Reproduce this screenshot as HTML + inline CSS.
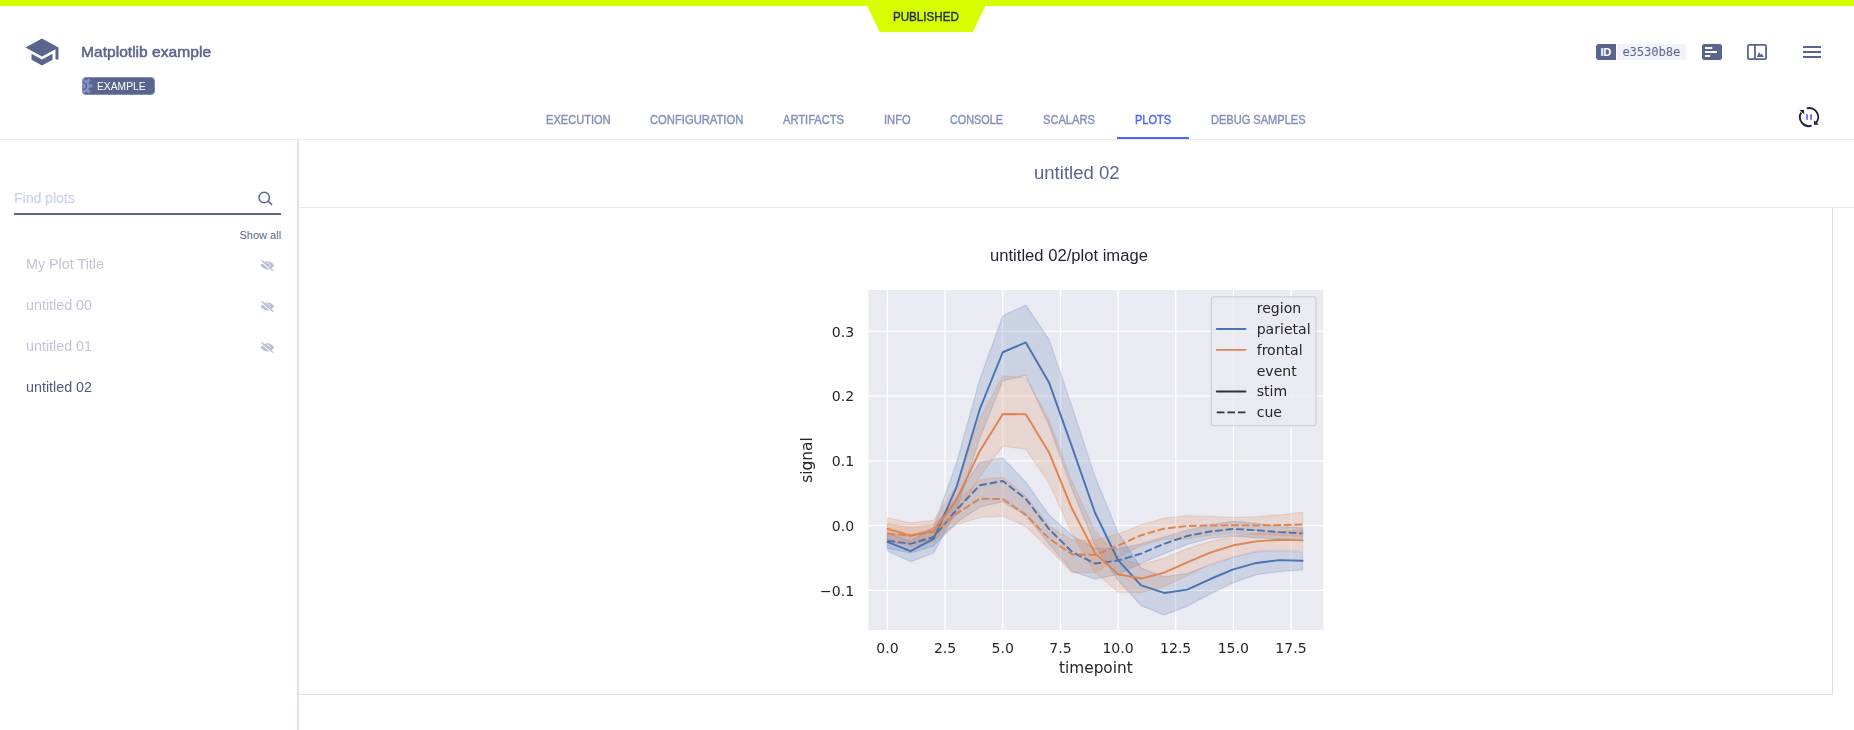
<!DOCTYPE html>
<html lang="en">
<head>
<meta charset="utf-8">
<title>Matplotlib example - Plots</title>
<style>
*{box-sizing:border-box;margin:0;padding:0}
html,body{width:1854px;height:730px;overflow:hidden;background:#fff}
body{position:relative;font-family:"Liberation Sans",Arial,sans-serif;color:#5a658e}
.abs{position:absolute}
.t{position:absolute;white-space:nowrap;line-height:1;transform-origin:0 50%}
.med{-webkit-text-stroke:0.4px currentColor}
#topbar{left:0;top:0;width:1854px;height:6px;background:#d7ff00}
#ribbon{left:860px;top:0;width:134px;height:34px}
#published{left:893px;top:11px;font-size:12px;color:#2a2d4f;transform:scaleX(0.967)}
#capicon{left:24px;top:34px;width:36px;height:36px}
#title{left:81px;top:44px;font-size:15px;color:#5a658e;-webkit-text-stroke:0.5px #5a658e;transform:scaleX(1.04)}
#badge{left:82px;top:77px;width:73px;height:18px;background:#5a658e;border:1px solid #7f8cc0;border-radius:4px;overflow:hidden}
#badge svg{position:absolute;left:-1px;top:-1px}
#badgetext{left:97px;top:81px;font-size:11px;color:#fff;transform:scaleX(0.935)}
#idchip-d{left:1596px;top:44px;width:20px;height:16px;background:#5a658e;border-radius:3px 0 0 3px}
#idchip-l{left:1617px;top:44px;width:69px;height:16px;background:#f1f3fc;border-radius:0 3px 3px 0}
#idtxt{left:1600.4px;top:47px;font-size:11px;font-weight:bold;color:#fff;letter-spacing:-0.3px}
#hash{left:1622.4px;top:46px;font-size:12px;font-family:"DejaVu Sans Mono","Liberation Mono",monospace;color:#5a658e}
#ico1{left:1702px;top:44px;width:20px;height:16px}
#ico2{left:1747px;top:44px;width:20px;height:16px}
#ico3{left:1803px;top:46px;width:18px;height:12px}
#refresh{left:1797px;top:105px;width:24px;height:24px}
.tab{font-size:12px;color:#8490bd;top:114px}
.tab.on{color:#4d66ff}
#tabline{left:1117px;top:137px;width:72px;height:2px;background:#4d66ff}
#hline{left:0;top:139px;width:1854px;height:1px;background:#e9ebf2}
#sideborder{left:297px;top:140px;width:2px;height:590px;background:#dce0f0}
#find{left:14px;top:191px;font-size:14px;color:#c3cdf0}
#findline{left:14px;top:213px;width:267px;height:2px;background:#5a658e}
#searchico{left:256px;top:189px;width:18px;height:18px}
#showall{left:239.5px;top:230px;font-size:11px;color:#5a658e}
.item{left:26px;font-size:14px;color:#c0c4d8;transform:scaleX(1.022)}
.item.on{color:#4d5a85}
.eye{left:259.500px;width:15px;height:15px}
#ptitle{left:1033.6px;top:164px;font-size:18px;color:#5a658e;transform:scaleX(1.03)}
#hline2{left:299px;top:207px;width:1555px;height:1px;background:#e9ebf3}
#vline{left:1832px;top:208px;width:1px;height:487px;background:#d9ddf0}
#hline3{left:299px;top:694px;width:1534px;height:1px;background:#d9ddf0}
#ctitle{left:989.7px;top:248px;font-size:16px;color:#1e2235;transform:scaleX(1.038)}
#chart{left:793.55px;top:236.30px;width:589.03px;height:443.65px}
#chart svg{display:block;width:100%;height:100%;filter:blur(0.45px)}
</style>
</head>
<body>
<div class="abs" id="topbar"></div>
<svg class="abs" id="ribbon" viewBox="0 0 134 34"><polygon points="6.800,5 125.800,5 112.800,32 19.700,32" fill="#d7ff00"/></svg>
<div class="t med" id="published">PUBLISHED</div>

<svg class="abs" id="capicon" viewBox="0 0 24 24"><path fill="#5a658e" d="M5 13.18v4L12 21l7-3.82v-4L12 17l-7-3.820zM12 3L1 9l11 6 9-4.910V17h2V9L12 3z"/></svg>
<div class="t" id="title">Matplotlib example</div>
<div class="abs" id="badge"><svg width="14" height="18" viewBox="0 0 14 18"><g fill="#8391c7"><circle cx="1" cy="9" r="6.300"/><rect x="-0.500" y="-0.400" width="3" height="4" /><rect x="-0.500" y="14.400" width="3" height="4"/><rect x="6" y="7.500" width="4.300" height="3"/><rect x="-0.500" y="-0.400" width="3" height="4" transform="rotate(45 1 9)"/><rect x="-0.500" y="-0.400" width="3" height="4" transform="rotate(135 1 9)"/></g><circle cx="1" cy="9" r="4.200" fill="#5a658e"/><circle cx="1" cy="9" r="2.800" fill="#8391c7"/></svg></div>
<div class="t" id="badgetext">EXAMPLE</div>

<div class="abs" id="idchip-d"></div><div class="abs" id="idchip-l"></div>
<div class="t" id="idtxt">ID</div>
<div class="t" id="hash">e3530b8e</div>
<svg class="abs" id="ico1" viewBox="0 0 20 16"><rect width="20" height="16" rx="2.200" fill="#5a658e"/><rect x="3" y="3" width="7.2" height="2" fill="#fff"/><rect x="3" y="7" width="12" height="2" fill="#fff"/><rect x="3" y="11" width="5.2" height="2" fill="#fff"/></svg>
<svg class="abs" id="ico2" viewBox="0 0 20 16"><rect x="0.9" y="0.9" width="18.2" height="14.2" rx="1.600" fill="none" stroke="#5a658e" stroke-width="1.8"/><rect x="7.1" y="1" width="1.8" height="14" fill="#5a658e"/><path d="M9.8 12.9l2.2-5 1.6 2.8 1.1-1.3 2.1 3.5z" fill="#5a658e"/></svg>
<svg class="abs" id="ico3" viewBox="0 0 18 12"><rect y="0" width="18" height="2" fill="#5a658e"/><rect y="5" width="18" height="2" fill="#5a658e"/><rect y="10" width="18" height="2" fill="#5a658e"/></svg>
<svg class="abs" id="refresh" viewBox="0 0 24 24"><g fill="none" stroke="#1f2347" stroke-width="1.9"><path d="M9.8 3.4A9 9 0 0 1 18.6 18.4"/><path d="M14.6 20.700A9 9 0 0 1 4.200 7.500"/></g><path d="M2.300 5h4.800v4.200z" fill="#1f2347"/><path d="M17 15.300v4.500h4.900z" fill="#1f2347"/><rect x="9.200" y="9.200" width="1.700" height="5.600" fill="#6a5cff"/><rect x="13.200" y="9.200" width="1.700" height="5.600" fill="#6a5cff"/></svg>

<div class="t tab med" style="left:546px;transform:scaleX(0.923)">EXECUTION</div>
<div class="t tab med" style="left:650px;transform:scaleX(0.935)">CONFIGURATION</div>
<div class="t tab med" style="left:783px;transform:scaleX(0.927)">ARTIFACTS</div>
<div class="t tab med" style="left:884px;transform:scaleX(0.93)">INFO</div>
<div class="t tab med" style="left:950px;transform:scaleX(0.903)">CONSOLE</div>
<div class="t tab med" style="left:1043px;transform:scaleX(0.927)">SCALARS</div>
<div class="t tab med on" style="left:1135px;transform:scaleX(0.918)">PLOTS</div>
<div class="t tab med" style="left:1211px;transform:scaleX(0.921)">DEBUG SAMPLES</div>
<div class="abs" id="tabline"></div>
<div class="abs" id="hline"></div>

<div class="abs" id="sideborder"></div>
<div class="t" id="find">Find plots</div>
<div class="abs" id="findline"></div>
<svg class="abs" id="searchico" viewBox="0 0 18 18"><circle cx="8.200" cy="8.500" r="5.200" fill="none" stroke="#5a68a0" stroke-width="1.5"/><path d="M12.100 12.200l4 3.700" stroke="#5a68a0" stroke-width="1.600" stroke-linecap="round"/></svg>
<div class="t" id="showall">Show all</div>
<div class="t item" style="top:257px">My Plot Title</div>
<div class="t item" style="top:298px">untitled 00</div>
<div class="t item" style="top:339px">untitled 01</div>
<div class="t item on" style="top:380px">untitled 02</div>
<svg class="abs eye" style="top:258px" viewBox="0 0 15 15"><path fill="#b9bed6" d="M0.500 7.500Q7.400 -0.850 14.300 7.400Q7.400 15.750 0.500 7.500z"/><path d="M5.560 5.560A2.600 2.600 0 0 1 9.240 9.240" fill="none" stroke="#fff" stroke-width="0.700"/><path d="M0.670 3.020L12.470 13.520" stroke="#fff" stroke-width="1.200"/><path d="M1.400 2.200L13.200 12.700" stroke="#b9bed6" stroke-width="1.300"/></svg><svg class="abs eye" style="top:299px" viewBox="0 0 15 15"><path fill="#b9bed6" d="M0.500 7.500Q7.400 -0.850 14.300 7.400Q7.400 15.750 0.500 7.500z"/><path d="M5.560 5.560A2.600 2.600 0 0 1 9.240 9.240" fill="none" stroke="#fff" stroke-width="0.700"/><path d="M0.670 3.020L12.470 13.520" stroke="#fff" stroke-width="1.200"/><path d="M1.400 2.200L13.200 12.700" stroke="#b9bed6" stroke-width="1.300"/></svg><svg class="abs eye" style="top:340px" viewBox="0 0 15 15"><path fill="#b9bed6" d="M0.500 7.500Q7.400 -0.850 14.300 7.400Q7.400 15.750 0.500 7.500z"/><path d="M5.560 5.560A2.600 2.600 0 0 1 9.240 9.240" fill="none" stroke="#fff" stroke-width="0.700"/><path d="M0.670 3.020L12.470 13.520" stroke="#fff" stroke-width="1.200"/><path d="M1.400 2.200L13.200 12.700" stroke="#b9bed6" stroke-width="1.300"/></svg>

<div class="t" id="ptitle">untitled 02</div>
<div class="abs" id="hline2"></div>
<div class="abs" id="vline"></div>
<div class="abs" id="hline3"></div>
<div class="abs" id="chart"><svg preserveAspectRatio="none" viewBox="0 0 460.8 345.6" version="1.1"> <defs> <style type="text/css">*{stroke-linejoin: round; stroke-linecap: butt}</style> </defs> <g id="figure_1"> <g id="patch_1"> <path d="M 0 345.6 L 460.8 345.6 L 460.8 0 L 0 0 z " style="fill: #ffffff"/> </g> <g id="axes_1"> <g id="patch_2"> <path d="M 57.6 307.584 L 414.72 307.584 L 414.72 41.472 L 57.6 41.472 z " style="fill: #eaeaf2"/> </g> <g id="matplotlib.axis_1"> <g id="xtick_1"> <g id="line2d_1"> <path d="M 73.130878 307.584 L 73.130878 41.472 " clip-path="url(#p36ef728d4f)" style="fill: none; stroke: #ffffff; stroke-linecap: round"/> </g> <g id="text_1"> <text style="font-size: 11px; font-family: 'DejaVu Sans', sans-serif; text-anchor: middle; fill: #262626" x="73.130878" y="325.042281" transform="rotate(-0 73.130878 325.042281)">0.0</text> </g> </g> <g id="xtick_2"> <g id="line2d_2"> <path d="M 118.226342 307.584 L 118.226342 41.472 " clip-path="url(#p36ef728d4f)" style="fill: none; stroke: #ffffff; stroke-linecap: round"/> </g> <g id="text_2"> <text style="font-size: 11px; font-family: 'DejaVu Sans', sans-serif; text-anchor: middle; fill: #262626" x="118.226342" y="325.042281" transform="rotate(-0 118.226342 325.042281)">2.5</text> </g> </g> <g id="xtick_3"> <g id="line2d_3"> <path d="M 163.321806 307.584 L 163.321806 41.472 " clip-path="url(#p36ef728d4f)" style="fill: none; stroke: #ffffff; stroke-linecap: round"/> </g> <g id="text_3"> <text style="font-size: 11px; font-family: 'DejaVu Sans', sans-serif; text-anchor: middle; fill: #262626" x="163.321806" y="325.042281" transform="rotate(-0 163.321806 325.042281)">5.0</text> </g> </g> <g id="xtick_4"> <g id="line2d_4"> <path d="M 208.41727 307.584 L 208.41727 41.472 " clip-path="url(#p36ef728d4f)" style="fill: none; stroke: #ffffff; stroke-linecap: round"/> </g> <g id="text_4"> <text style="font-size: 11px; font-family: 'DejaVu Sans', sans-serif; text-anchor: middle; fill: #262626" x="208.41727" y="325.042281" transform="rotate(-0 208.41727 325.042281)">7.5</text> </g> </g> <g id="xtick_5"> <g id="line2d_5"> <path d="M 253.512735 307.584 L 253.512735 41.472 " clip-path="url(#p36ef728d4f)" style="fill: none; stroke: #ffffff; stroke-linecap: round"/> </g> <g id="text_5"> <text style="font-size: 11px; font-family: 'DejaVu Sans', sans-serif; text-anchor: middle; fill: #262626" x="253.512735" y="325.042281" transform="rotate(-0 253.512735 325.042281)">10.0</text> </g> </g> <g id="xtick_6"> <g id="line2d_6"> <path d="M 298.608199 307.584 L 298.608199 41.472 " clip-path="url(#p36ef728d4f)" style="fill: none; stroke: #ffffff; stroke-linecap: round"/> </g> <g id="text_6"> <text style="font-size: 11px; font-family: 'DejaVu Sans', sans-serif; text-anchor: middle; fill: #262626" x="298.608199" y="325.042281" transform="rotate(-0 298.608199 325.042281)">12.5</text> </g> </g> <g id="xtick_7"> <g id="line2d_7"> <path d="M 343.703663 307.584 L 343.703663 41.472 " clip-path="url(#p36ef728d4f)" style="fill: none; stroke: #ffffff; stroke-linecap: round"/> </g> <g id="text_7"> <text style="font-size: 11px; font-family: 'DejaVu Sans', sans-serif; text-anchor: middle; fill: #262626" x="343.703663" y="325.042281" transform="rotate(-0 343.703663 325.042281)">15.0</text> </g> </g> <g id="xtick_8"> <g id="line2d_8"> <path d="M 388.799127 307.584 L 388.799127 41.472 " clip-path="url(#p36ef728d4f)" style="fill: none; stroke: #ffffff; stroke-linecap: round"/> </g> <g id="text_8"> <text style="font-size: 11px; font-family: 'DejaVu Sans', sans-serif; text-anchor: middle; fill: #262626" x="388.799127" y="325.042281" transform="rotate(-0 388.799127 325.042281)">17.5</text> </g> </g> <g id="text_9"> <text style="font-size: 12px; font-family: 'DejaVu Sans', sans-serif; text-anchor: middle; fill: #262626" x="236.16" y="340.648062" transform="rotate(-0 236.16 340.648062)">timepoint</text> </g> </g> <g id="matplotlib.axis_2"> <g id="ytick_1"> <g id="line2d_9"> <path d="M 57.6 276.141924 L 414.72 276.141924 " clip-path="url(#p36ef728d4f)" style="fill: none; stroke: #ffffff; stroke-linecap: round"/> </g> <g id="text_10"> <text style="font-size: 11px; font-family: 'DejaVu Sans', sans-serif; text-anchor: end; fill: #262626" x="47.1" y="280.321065" transform="rotate(-0 47.1 280.321065)">−0.1</text> </g> </g> <g id="ytick_2"> <g id="line2d_10"> <path d="M 57.6 225.673103 L 414.72 225.673103 " clip-path="url(#p36ef728d4f)" style="fill: none; stroke: #ffffff; stroke-linecap: round"/> </g> <g id="text_11"> <text style="font-size: 11px; font-family: 'DejaVu Sans', sans-serif; text-anchor: end; fill: #262626" x="47.1" y="229.852244" transform="rotate(-0 47.1 229.852244)">0.0</text> </g> </g> <g id="ytick_3"> <g id="line2d_11"> <path d="M 57.6 175.204282 L 414.72 175.204282 " clip-path="url(#p36ef728d4f)" style="fill: none; stroke: #ffffff; stroke-linecap: round"/> </g> <g id="text_12"> <text style="font-size: 11px; font-family: 'DejaVu Sans', sans-serif; text-anchor: end; fill: #262626" x="47.1" y="179.383423" transform="rotate(-0 47.1 179.383423)">0.1</text> </g> </g> <g id="ytick_4"> <g id="line2d_12"> <path d="M 57.6 124.735461 L 414.72 124.735461 " clip-path="url(#p36ef728d4f)" style="fill: none; stroke: #ffffff; stroke-linecap: round"/> </g> <g id="text_13"> <text style="font-size: 11px; font-family: 'DejaVu Sans', sans-serif; text-anchor: end; fill: #262626" x="47.1" y="128.914602" transform="rotate(-0 47.1 128.914602)">0.2</text> </g> </g> <g id="ytick_5"> <g id="line2d_13"> <path d="M 57.6 74.26664 L 414.72 74.26664 " clip-path="url(#p36ef728d4f)" style="fill: none; stroke: #ffffff; stroke-linecap: round"/> </g> <g id="text_14"> <text style="font-size: 11px; font-family: 'DejaVu Sans', sans-serif; text-anchor: end; fill: #262626" x="47.1" y="78.445781" transform="rotate(-0 47.1 78.445781)">0.3</text> </g> </g> <g id="text_15"> <text style="font-size: 12px; font-family: 'DejaVu Sans', sans-serif; text-anchor: middle; fill: #262626" x="13.693281" y="174.528" transform="rotate(-90 13.693281 174.528)">signal</text> </g> </g> <g id="FillBetweenPolyCollection_1"> <g clip-path="url(#p36ef728d4f)"> <path d="M 73.130878 -114.375326 L 73.130878 -100.244056 L 91.169064 -91.866232 L 109.207249 -98.578585 L 127.245435 -132.544102 L 145.283621 -188.059805 L 163.321806 -232.876118 L 181.359992 -236.964093 L 199.398178 -198.153569 L 217.436363 -148.542718 L 235.474549 -104.78625 L 253.512735 -77.331212 L 271.55092 -57.648371 L 289.589106 -50.43133 L 307.627292 -57.143683 L 325.665477 -66.783228 L 343.703663 -75.514334 L 361.741849 -81.772468 L 379.780034 -84.194971 L 397.81822 -85.608098 L 397.81822 -99.285149 L 397.81822 -99.285149 L 379.780034 -100.496401 L 361.741849 -99.537493 L 343.703663 -95.247643 L 325.665477 -89.39326 L 307.627292 -82.630438 L 289.589106 -80.207934 L 271.55092 -86.920288 L 253.512735 -114.476264 L 235.474549 -158.131794 L 217.436363 -212.789528 L 199.398178 -265.32757 L 181.359992 -291.773233 L 163.321806 -283.395408 L 145.283621 -233.734088 L 127.245435 -169.184466 L 109.207249 -118.91752 L 91.169064 -107.81438 L 73.130878 -114.375326 z " transform="translate(0 345.6)" style="fill: #4c72b0; fill-opacity: 0.2; stroke: #4c72b0; stroke-opacity: 0.2"/> </g> </g> <g id="FillBetweenPolyCollection_2"> <g clip-path="url(#p36ef728d4f)"> <path d="M 73.130878 -113.870638 L 73.130878 -102.262809 L 91.169064 -98.729992 L 109.207249 -104.281562 L 127.245435 -122.450338 L 145.283621 -134.562855 L 163.321806 -138.60036 L 181.359992 -128.001908 L 199.398178 -105.795627 L 217.436363 -84.598722 L 235.474549 -78.290119 L 253.512735 -82.075281 L 271.55092 -90.453105 L 289.589106 -98.124366 L 307.627292 -105.341407 L 325.665477 -110.135945 L 343.703663 -112.053761 L 361.741849 -110.590165 L 379.780034 -109.631257 L 397.81822 -109.177038 L 397.81822 -118.311894 L 397.81822 -118.311894 L 379.780034 -119.270802 L 361.741849 -121.642837 L 343.703663 -123.308308 L 325.665477 -120.683929 L 307.627292 -116.394079 L 289.589106 -111.094853 L 271.55092 -105.795627 L 253.512735 -101.959996 L 235.474549 -102.262809 L 217.436363 -112.356574 L 199.398178 -128.35519 L 181.359992 -153.791476 L 163.321806 -172.717284 L 145.283621 -169.184466 L 127.245435 -142.637866 L 109.207249 -117.908144 L 91.169064 -112.356574 L 73.130878 -113.870638 z " transform="translate(0 345.6)" style="fill: #4c72b0; fill-opacity: 0.2; stroke: #4c72b0; stroke-opacity: 0.2"/> </g> </g> <g id="FillBetweenPolyCollection_3"> <g clip-path="url(#p36ef728d4f)"> <path d="M 73.130878 -125.983155 L 73.130878 -108.823756 L 91.169064 -103.272186 L 109.207249 -107.309691 L 127.245435 -129.011284 L 145.283621 -158.131794 L 163.321806 -181.700734 L 181.359992 -179.631512 L 199.398178 -153.337256 L 217.436363 -113.870638 L 235.474549 -83.589345 L 253.512735 -68.196355 L 271.55092 -67.742136 L 289.589106 -72.536674 L 307.627292 -81.065904 L 325.665477 -90.150292 L 343.703663 -95.701863 L 361.741849 -100.244056 L 379.780034 -101.202964 L 397.81822 -100.042181 L 397.81822 -116.898767 L 397.81822 -116.898767 L 379.780034 -115.384703 L 361.741849 -113.971576 L 343.703663 -111.549072 L 325.665477 -107.713442 L 307.627292 -102.111403 L 289.589106 -94.692486 L 271.55092 -89.645604 L 253.512735 -94.187798 L 235.474549 -115.889391 L 217.436363 -154.245695 L 199.398178 -202.695763 L 181.359992 -235.298622 L 163.321806 -236.560342 L 145.283621 -203.200452 L 127.245435 -151.217566 L 109.207249 -124.06534 L 91.169064 -122.147525 L 73.130878 -125.983155 z " transform="translate(0 345.6)" style="fill: #dd8452; fill-opacity: 0.2; stroke: #dd8452; stroke-opacity: 0.2"/> </g> </g> <g id="FillBetweenPolyCollection_4"> <g clip-path="url(#p36ef728d4f)"> <path d="M 73.130878 -121.440961 L 73.130878 -106.300315 L 91.169064 -105.795627 L 109.207249 -108.823756 L 127.245435 -120.936273 L 145.283621 -126.18503 L 163.321806 -127.396282 L 181.359992 -119.270802 L 199.398178 -101.959996 L 217.436363 -83.337001 L 235.474549 -83.337001 L 253.512735 -95.197174 L 271.55092 -104.3825 L 289.589106 -109.328444 L 307.627292 -109.631257 L 325.665477 -112.50798 L 343.703663 -113.971576 L 361.741849 -113.012668 L 379.780034 -112.356574 L 397.81822 -111.549072 L 397.81822 -130.323474 L 397.81822 -130.323474 L 379.780034 -128.405659 L 361.741849 -126.942063 L 343.703663 -126.437375 L 325.665477 -127.143938 L 307.627292 -127.699095 L 289.589106 -125.882218 L 271.55092 -120.683929 L 253.512735 -113.466888 L 235.474549 -108.67235 L 217.436363 -108.823756 L 199.398178 -119.926897 L 181.359992 -143.142554 L 163.321806 -157.677575 L 145.283621 -155.709291 L 127.245435 -137.590984 L 109.207249 -120.936273 L 91.169064 -118.412832 L 73.130878 -121.440961 z " transform="translate(0 345.6)" style="fill: #dd8452; fill-opacity: 0.2; stroke: #dd8452; stroke-opacity: 0.2"/> </g> </g> <g id="line2d_14"> <path d="M 73.130878 238.340777 L 91.169064 245.557819 L 109.207249 235.968743 L 127.245435 195.391811 L 145.283621 135.081569 L 163.321806 90.568069 L 181.359992 82.896808 L 199.398178 113.884665 L 217.436363 164.101142 L 235.474549 215.579339 L 253.512735 252.421579 L 271.55092 272.104419 L 289.589106 278.05974 L 307.627292 275.48583 L 325.665477 267.208943 L 343.703663 259.739558 L 361.741849 254.692675 L 379.780034 252.472047 L 397.81822 253.027204 " clip-path="url(#p36ef728d4f)" style="fill: none; stroke: #4c72b0; stroke-width: 1.5; stroke-linecap: round"/> </g> <g id="line2d_15"> <path d="M 73.130878 237.38187 L 91.169064 239.804373 L 109.207249 234.505147 L 127.245435 213.156836 L 145.283621 194.180559 L 163.321806 190.849617 L 181.359992 204.779011 L 199.398178 228.196544 L 217.436363 246.062507 L 235.474549 255.146895 L 253.512735 252.77486 L 271.55092 247.475634 L 289.589106 239.804373 L 307.627292 233.697646 L 325.665477 230.164828 L 343.703663 228.247013 L 361.741849 229.205921 L 379.780034 230.669517 L 397.81822 231.628424 " clip-path="url(#p36ef728d4f)" style="fill: none; stroke-dasharray: 6,2.25; stroke-dashoffset: 0; stroke: #4c72b0; stroke-width: 1.5"/> </g> <g id="line2d_16"> <path d="M 73.130878 228.247013 L 91.169064 233.243426 L 109.207249 229.710609 L 127.245435 205.485575 L 145.283621 167.633959 L 163.321806 138.614387 L 181.359992 138.9172 L 199.398178 168.44146 L 217.436363 212.298866 L 235.474549 247.021415 L 253.512735 263.524719 L 271.55092 266.855661 L 289.589106 262.21253 L 307.627292 254.238456 L 325.665477 246.668133 L 343.703663 240.965156 L 361.741849 237.886558 L 379.780034 236.624838 L 397.81822 237.129526 " clip-path="url(#p36ef728d4f)" style="fill: none; stroke: #dd8452; stroke-width: 1.5; stroke-linecap: round"/> </g> <g id="line2d_17"> <path d="M 73.130878 231.628424 L 91.169064 233.546239 L 109.207249 230.669517 L 127.245435 216.235434 L 145.283621 204.627605 L 163.321806 204.930418 L 181.359992 217.24481 L 199.398178 235.514523 L 217.436363 247.980322 L 235.474549 248.434542 L 253.512735 241.2175 L 271.55092 233.09202 L 289.589106 227.9442 L 307.627292 225.925447 L 325.665477 225.521697 L 343.703663 225.37029 L 361.741849 225.471228 L 379.780034 225.168415 L 397.81822 224.714196 " clip-path="url(#p36ef728d4f)" style="fill: none; stroke-dasharray: 6,2.25; stroke-dashoffset: 0; stroke: #dd8452; stroke-width: 1.5"/> </g> <g id="patch_3"> <path d="M 57.6 307.584 L 57.6 41.472 " style="fill: none; stroke: #ffffff; stroke-width: 1.25; stroke-linejoin: miter; stroke-linecap: square"/> </g> <g id="patch_4"> <path d="M 414.72 307.584 L 414.72 41.472 " style="fill: none; stroke: #ffffff; stroke-width: 1.25; stroke-linejoin: miter; stroke-linecap: square"/> </g> <g id="patch_5"> <path d="M 57.6 307.584 L 414.72 307.584 " style="fill: none; stroke: #ffffff; stroke-width: 1.25; stroke-linejoin: miter; stroke-linecap: square"/> </g> <g id="patch_6"> <path d="M 57.6 41.472 L 414.72 41.472 " style="fill: none; stroke: #ffffff; stroke-width: 1.25; stroke-linejoin: miter; stroke-linecap: square"/> </g> <g id="legend_1"> <g id="patch_7"> <path d="M 328.709132 147.771756 L 406.198976 147.771756 Q 408.398976 147.771756 408.398976 145.571756 L 408.398976 49.686131 Q 408.398976 47.486131 406.198976 47.486131 L 328.709132 47.486131 Q 326.509132 47.486131 326.509132 49.686131 L 326.509132 145.571756 Q 326.509132 147.771756 328.709132 147.771756 z " style="fill: #eaeaf2; opacity: 0.8; stroke: #cccccc; stroke-linejoin: miter"/> </g> <g id="text_16"> <text style="font-size: 11px; font-family: 'DejaVu Sans', sans-serif; text-anchor: start; fill: #262626" x="361.984132" y="60.079412" transform="rotate(-0 361.984132 60.079412)">region</text> </g> <g id="line2d_18"> <path d="M 330.744132 72.46335 L 341.964132 72.46335 L 353.184132 72.46335 " style="fill: none; stroke: #4c72b0; stroke-width: 1.5; stroke-linecap: round"/> </g> <g id="text_17"> <text style="font-size: 11px; font-family: 'DejaVu Sans', sans-serif; text-anchor: start; fill: #262626" x="361.984132" y="76.31335" transform="rotate(-0 361.984132 76.31335)">parietal</text> </g> <g id="line2d_19"> <path d="M 330.744132 88.697287 L 341.964132 88.697287 L 353.184132 88.697287 " style="fill: none; stroke: #dd8452; stroke-width: 1.5; stroke-linecap: round"/> </g> <g id="text_18"> <text style="font-size: 11px; font-family: 'DejaVu Sans', sans-serif; text-anchor: start; fill: #262626" x="361.984132" y="92.547287" transform="rotate(-0 361.984132 92.547287)">frontal</text> </g> <g id="text_19"> <text style="font-size: 11px; font-family: 'DejaVu Sans', sans-serif; text-anchor: start; fill: #262626" x="361.984132" y="108.781225" transform="rotate(-0 361.984132 108.781225)">event</text> </g> <g id="line2d_20"> <path d="M 330.744132 121.165162 L 341.964132 121.165162 L 353.184132 121.165162 " style="fill: none; stroke: #333333; stroke-width: 1.5; stroke-linecap: round"/> </g> <g id="text_20"> <text style="font-size: 11px; font-family: 'DejaVu Sans', sans-serif; text-anchor: start; fill: #262626" x="361.984132" y="125.015162" transform="rotate(-0 361.984132 125.015162)">stim</text> </g> <g id="line2d_21"> <path d="M 330.744132 137.3991 L 341.964132 137.3991 L 353.184132 137.3991 " style="fill: none; stroke-dasharray: 6,2.25; stroke-dashoffset: 0; stroke: #333333; stroke-width: 1.5"/> </g> <g id="text_21"> <text style="font-size: 11px; font-family: 'DejaVu Sans', sans-serif; text-anchor: start; fill: #262626" x="361.984132" y="141.2491" transform="rotate(-0 361.984132 141.2491)">cue</text> </g> </g> </g> </g> <defs> <clipPath id="p36ef728d4f"> <rect x="57.6" y="41.472" width="357.12" height="266.112"/> </clipPath> </defs> </svg> </div>
<div class="t" id="ctitle">untitled 02/plot image</div>
</body>
</html>
